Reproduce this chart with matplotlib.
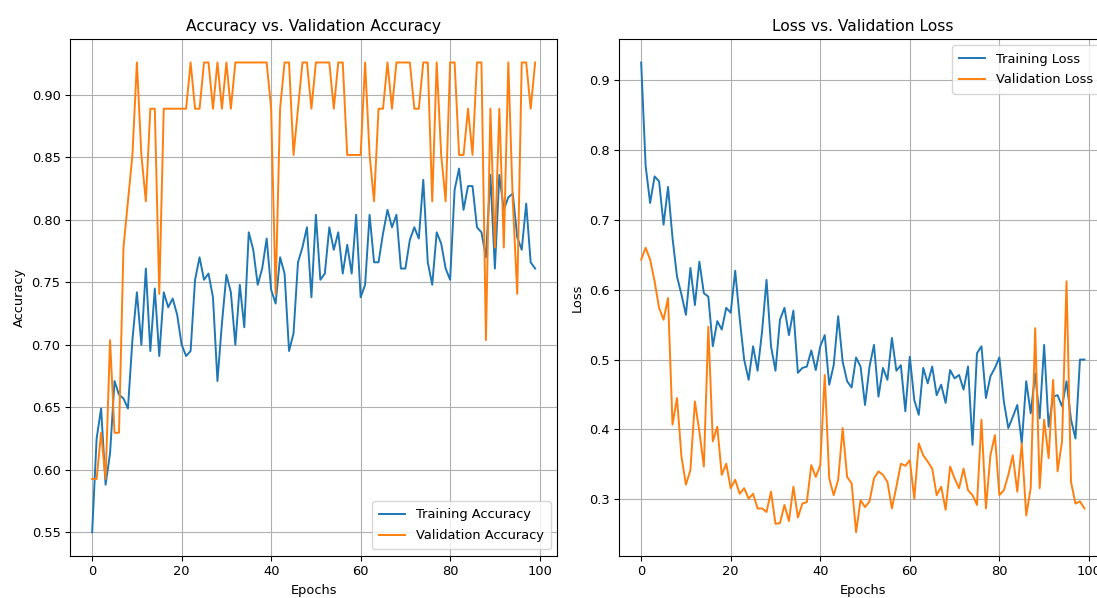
import matplotlib
matplotlib.use("Agg")
import matplotlib.pyplot as plt
import numpy as np

epochs = list(range(100))

train_acc = [0.550, 0.625, 0.649, 0.588, 0.613, 0.671, 0.660, 0.657, 0.649, 0.704,
             0.742, 0.700, 0.761, 0.695, 0.745, 0.691, 0.742, 0.730, 0.737, 0.724,
             0.700, 0.691, 0.695, 0.752, 0.770, 0.752, 0.757, 0.738, 0.671, 0.717,
             0.756, 0.742, 0.700, 0.748, 0.714, 0.790, 0.776, 0.748, 0.761, 0.785,
             0.744, 0.733, 0.770, 0.757, 0.695, 0.709, 0.766, 0.778, 0.794, 0.738,
             0.804, 0.752, 0.757, 0.794, 0.776, 0.790, 0.757, 0.780, 0.757, 0.804,
             0.738, 0.748, 0.804, 0.766, 0.766, 0.789, 0.808, 0.794, 0.804, 0.761,
             0.761, 0.784, 0.794, 0.785, 0.832, 0.766, 0.748, 0.790, 0.781, 0.761,
             0.752, 0.824, 0.841, 0.808, 0.827, 0.827, 0.794, 0.790, 0.770, 0.836,
             0.761, 0.836, 0.808, 0.818, 0.821, 0.786, 0.776, 0.813, 0.766, 0.761]

val_acc = [0.5926, 0.5926, 0.6296, 0.5926, 0.7037, 0.6296, 0.6296, 0.7778, 0.8148, 0.8519,
           0.9259, 0.8519, 0.8148, 0.8889, 0.8889, 0.7407, 0.8889, 0.8889, 0.8889, 0.8889,
           0.8889, 0.8889, 0.9259, 0.8889, 0.8889, 0.9259, 0.9259, 0.8889, 0.9259, 0.8889,
           0.9259, 0.8889, 0.9259, 0.9259, 0.9259, 0.9259, 0.9259, 0.9259, 0.9259, 0.9259,
           0.8889, 0.7407, 0.8889, 0.9259, 0.9259, 0.8519, 0.8889, 0.9259, 0.9259, 0.8889,
           0.9259, 0.9259, 0.9259, 0.9259, 0.8889, 0.9259, 0.9259, 0.8519, 0.8519, 0.8519,
           0.8519, 0.9259, 0.8519, 0.8148, 0.8889, 0.8889, 0.9259, 0.8889, 0.9259, 0.9259,
           0.9259, 0.9259, 0.8889, 0.8889, 0.9259, 0.9259, 0.8148, 0.9259, 0.8519, 0.8148,
           0.9259, 0.9259, 0.8519, 0.8519, 0.8889, 0.8519, 0.9259, 0.9259, 0.7037, 0.8889,
           0.7778, 0.8889, 0.7778, 0.9259, 0.8148, 0.7407, 0.9259, 0.9259, 0.8889, 0.9259]

train_loss = [0.925, 0.777, 0.724, 0.762, 0.755, 0.693, 0.747, 0.674, 0.619, 0.593,
              0.564, 0.631, 0.578, 0.640, 0.595, 0.590, 0.519, 0.555, 0.543, 0.574,
              0.567, 0.627, 0.559, 0.500, 0.471, 0.519, 0.484, 0.540, 0.614, 0.519,
              0.484, 0.557, 0.574, 0.535, 0.570, 0.481, 0.488, 0.490, 0.513, 0.485,
              0.519, 0.535, 0.464, 0.492, 0.562, 0.497, 0.469, 0.460, 0.503, 0.490,
              0.435, 0.490, 0.521, 0.447, 0.488, 0.471, 0.531, 0.484, 0.492, 0.426,
              0.504, 0.442, 0.421, 0.488, 0.466, 0.490, 0.449, 0.464, 0.438, 0.485,
              0.473, 0.478, 0.457, 0.490, 0.378, 0.509, 0.519, 0.445, 0.476, 0.488,
              0.503, 0.440, 0.402, 0.418, 0.435, 0.380, 0.469, 0.423, 0.480, 0.416,
              0.521, 0.404, 0.447, 0.449, 0.433, 0.469, 0.414, 0.387, 0.500, 0.500]

val_loss = [0.643, 0.660, 0.643, 0.612, 0.574, 0.557, 0.588, 0.407, 0.445, 0.361,
            0.321, 0.342, 0.440, 0.397, 0.347, 0.547, 0.383, 0.404, 0.335, 0.351,
            0.316, 0.328, 0.308, 0.316, 0.301, 0.308, 0.287, 0.287, 0.282, 0.311,
            0.265, 0.266, 0.292, 0.269, 0.318, 0.274, 0.294, 0.296, 0.349, 0.332,
            0.349, 0.478, 0.330, 0.306, 0.328, 0.402, 0.332, 0.323, 0.253, 0.299,
            0.289, 0.297, 0.330, 0.340, 0.335, 0.325, 0.287, 0.318, 0.351, 0.348,
            0.356, 0.301, 0.380, 0.363, 0.354, 0.344, 0.306, 0.318, 0.285, 0.347,
            0.330, 0.316, 0.344, 0.313, 0.306, 0.292, 0.414, 0.287, 0.363, 0.392,
            0.306, 0.313, 0.335, 0.363, 0.311, 0.380, 0.277, 0.316, 0.545, 0.316,
            0.414, 0.359, 0.471, 0.340, 0.383, 0.612, 0.325, 0.294, 0.297, 0.287]

plt.rcParams['font.size'] = 9.35
plt.rcParams['axes.titlesize'] = 11.2
plt.rcParams['lines.linewidth'] = 1.4
plt.rcParams['xtick.major.size'] = 3.3
plt.rcParams['ytick.major.size'] = 3.3
plt.rcParams['legend.labelspacing'] = 0.6
plt.rcParams['legend.borderpad'] = 0.55

W, H = 1097, 598
fig = plt.figure(figsize=(W / 100, H / 100), dpi=100)
bottom = (H - 555.7) / H
height = (555.7 - 39) / H
ax1 = fig.add_axes([70 / W, bottom, 487.3 / W, height])
ax2 = fig.add_axes([619 / W, bottom, 487.6 / W, height])

ax1.plot(epochs, train_acc, label="Training Accuracy")
ax1.plot(epochs, val_acc, label="Validation Accuracy")
ax1.set_title("Accuracy vs. Validation Accuracy")
ax1.set_xlabel("Epochs")
ax1.set_ylabel("Accuracy")
ax1.legend(loc="lower right")
ax1.grid(True)

ax2.plot(epochs, train_loss, label="Training Loss")
ax2.plot(epochs, val_loss, label="Validation Loss")
ax2.set_title("Loss vs. Validation Loss")
ax2.set_xlabel("Epochs")
ax2.set_ylabel("Loss")
ax2.legend(loc="upper right")
ax2.grid(True)

fig.savefig("out.png", dpi=100)
